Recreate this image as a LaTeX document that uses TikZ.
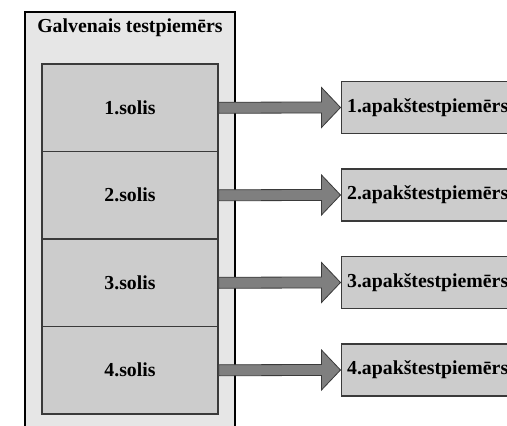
\documentclass[tikz,border=0pt]{standalone}
\usepackage{fontspec}
\setmainfont{Liberation Serif}
\usetikzlibrary{calc}
\definecolor{outerfill}{HTML}{E6E6E6}
\definecolor{stepfill}{HTML}{CCCCCC}
\definecolor{arrowfill}{HTML}{7F7F7F}
\definecolor{edgegray}{HTML}{3A3A3A}
\tikzset{
  x=1pt, y=-1pt,
  bigfont/.style={font=\fontsize{19.8}{23}\selectfont\bfseries},
  outerbox/.style={draw=black,line width=1.2pt,fill=outerfill},
  stepbox/.style={draw=edgegray,line width=1.4pt,fill=stepfill,bigfont,
    minimum width=176pt,minimum height=87.5pt,inner sep=0pt},
  subbox/.style={draw=edgegray,line width=1.2pt,fill=stepfill,bigfont,anchor=west,
    text width=170pt,align=left,inner sep=6pt,minimum height=52pt},
  fatarrow/.style={draw=edgegray,line width=0.8pt,fill=arrowfill,line join=miter},
}
\begin{document}
\begin{tikzpicture}
  \clip (0,0) rectangle (507,426);
  \fill[white] (0,0) rectangle (507,426);
  % main test case
  \draw[outerbox] (25,12) rectangle (235,445);
  \node[bigfont,anchor=base] (title) at (130,32) {Galvenais testpiemērs};
  % steps and sub test cases
  \foreach \i in {1,...,4} {
    \node[stepbox] (s\i) at (130,{107.75+87.5*(\i-1)}) {\i.solis};
    \node[subbox] (t\i) at (340.5,{107.5+87.5*(\i-1)}) {\i.apakštestpiemērs};
    \draw[fatarrow] ($(s\i.east)+(0,5.5)$) -- ($(t\i.west)+(-19,5.5)$)
      -- ($(t\i.west)+(-19,20)$) -- (t\i.west) -- ($(t\i.west)+(-19,-20)$)
      -- ($(t\i.west)+(-19,-5.5)$) -- ($(s\i.east)+(0,-5.5)$) -- cycle;
  }
\end{tikzpicture}
\end{document}
